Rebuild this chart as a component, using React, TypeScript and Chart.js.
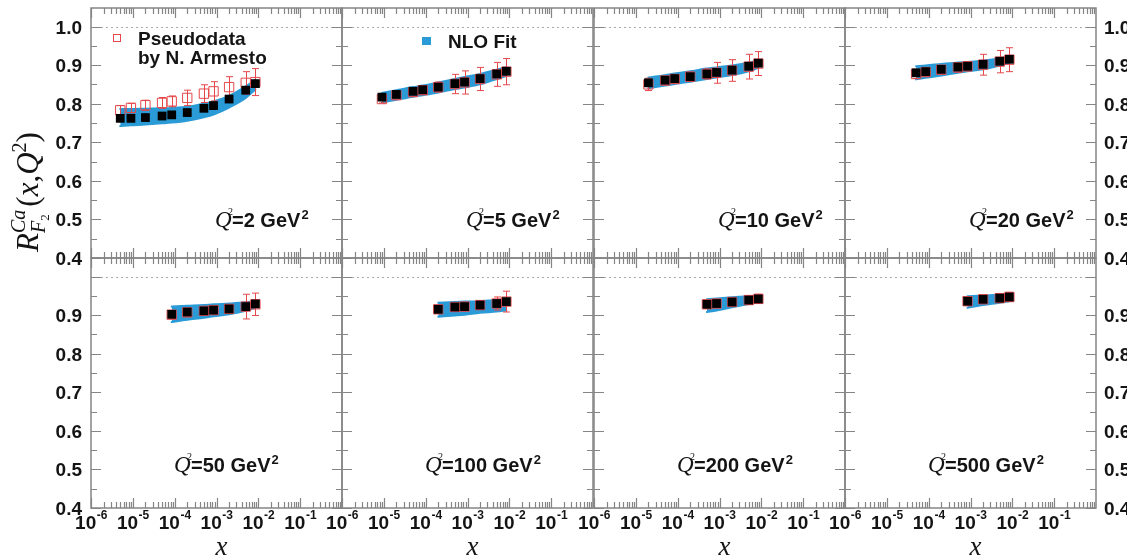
import React, { useEffect, useRef } from "react";
import { Chart, registerables } from "chart.js";
Chart.register(...registerables);

const CANVAS_W = 1127;
const CANVAS_H = 560;
const PANEL_LEFTS = [91, 342, 594, 845];
const PANEL_TOPS = [8, 258];
const PANEL_W = 251;
const PANEL_H = 250;
const Y_MIN = 0.4;
const Y_MAX = 1.048;
const X_MIN = 1e-6;
const X_MAX = 1;

const Q2_VALUES = ["2", "5", "10", "20", "50", "100", "200", "500"];
const Y_TICKS_TOP = [1.0, 0.9, 0.8, 0.7, 0.6, 0.5, 0.4];
const Y_TICKS_BOTTOM = [0.9, 0.8, 0.7, 0.6, 0.5, 0.4];
const X_TICK_EXPONENTS = [-6, -5, -4, -3, -2, -1];

// Q2 = 2 GeV2
const X_Q2_2 = [5e-6, 9e-6, 2e-5, 5e-5, 8.5e-5, 2e-4, 5e-4, 8.5e-4, 2e-3, 5e-3, 8.5e-3];
const FIT_Q2_2 = [0.762, 0.762, 0.764, 0.768, 0.771, 0.777, 0.788, 0.795, 0.812, 0.835, 0.852];
const DATA_Q2_2 = [0.783, 0.789, 0.796, 0.802, 0.806, 0.815, 0.826, 0.832, 0.843, 0.854, 0.856];
const ERR_Q2_2 = [0.012, 0.012, 0.013, 0.014, 0.014, 0.02, 0.023, 0.025, 0.027, 0.029, 0.035];
const BAND_LO_Q2_2 = [0.742, 0.744, 0.746, 0.749, 0.751, 0.756, 0.765, 0.772, 0.79, 0.815, 0.837];
const BAND_HI_Q2_2 = [0.786, 0.786, 0.787, 0.788, 0.789, 0.792, 0.8, 0.806, 0.82, 0.845, 0.862];

// Q2 = 5 GeV2
const X_Q2_5 = [9e-6, 2e-5, 5e-5, 8.5e-5, 2e-4, 5e-4, 8.5e-4, 2e-3, 5e-3, 8.5e-3];
const FIT_Q2_5 = [0.817, 0.824, 0.832, 0.836, 0.843, 0.852, 0.856, 0.865, 0.877, 0.884];
const DATA_Q2_5 = [0.812, 0.822, 0.83, 0.835, 0.843, 0.851, 0.855, 0.864, 0.876, 0.883];
const ERR_Q2_5 = [0.01, 0.01, 0.011, 0.011, 0.013, 0.025, 0.03, 0.03, 0.031, 0.034];
const BAND_LO_Q2_5 = [0.803, 0.81, 0.818, 0.822, 0.829, 0.838, 0.842, 0.85, 0.864, 0.872];
const BAND_HI_Q2_5 = [0.828, 0.835, 0.843, 0.847, 0.855, 0.864, 0.869, 0.877, 0.888, 0.895];

// Q2 = 10 GeV2
const X_Q2_10 = [2e-5, 5e-5, 8.5e-5, 2e-4, 5e-4, 8.5e-4, 2e-3, 5e-3, 8.5e-3];
const FIT_Q2_10 = [0.854, 0.861, 0.865, 0.87, 0.877, 0.881, 0.887, 0.897, 0.905];
const DATA_Q2_10 = [0.85, 0.86, 0.864, 0.87, 0.877, 0.88, 0.886, 0.896, 0.904];
const ERR_Q2_10 = [0.016, 0.011, 0.011, 0.012, 0.013, 0.027, 0.028, 0.032, 0.031];
const BAND_LO_Q2_10 = [0.84, 0.847, 0.851, 0.857, 0.864, 0.868, 0.874, 0.884, 0.893];
const BAND_HI_Q2_10 = [0.868, 0.874, 0.878, 0.884, 0.891, 0.894, 0.899, 0.907, 0.913];

// Q2 = 20 GeV2
const X_Q2_20 = [5e-5, 8.5e-5, 2e-4, 5e-4, 8.5e-4, 2e-3, 5e-3, 8.5e-3];
const FIT_Q2_20 = [0.88, 0.883, 0.889, 0.895, 0.897, 0.902, 0.91, 0.915];
const DATA_Q2_20 = [0.877, 0.882, 0.888, 0.894, 0.897, 0.901, 0.909, 0.914];
const ERR_Q2_20 = [0.012, 0.011, 0.011, 0.012, 0.012, 0.027, 0.029, 0.031];
const BAND_LO_Q2_20 = [0.863, 0.867, 0.873, 0.88, 0.884, 0.889, 0.899, 0.906];
const BAND_HI_Q2_20 = [0.897, 0.899, 0.903, 0.907, 0.908, 0.912, 0.918, 0.923];

// Q2 = 50 GeV2
const X_Q2_50 = [8.5e-5, 2e-4, 5e-4, 8.5e-4, 2e-3, 5e-3, 8.5e-3];
const FIT_Q2_50 = [0.902, 0.908, 0.911, 0.913, 0.916, 0.922, 0.929];
const DATA_Q2_50 = [0.901, 0.907, 0.911, 0.913, 0.916, 0.922, 0.928];
const ERR_Q2_50 = [0.01, 0.01, 0.01, 0.01, 0.011, 0.032, 0.029];
const BAND_LO_Q2_50 = [0.882, 0.888, 0.893, 0.897, 0.902, 0.911, 0.919];
const BAND_HI_Q2_50 = [0.922, 0.924, 0.926, 0.928, 0.93, 0.933, 0.936];

// Q2 = 100 GeV2
const X_Q2_100 = [2e-4, 5e-4, 8.5e-4, 2e-3, 5e-3, 8.5e-3];
const FIT_Q2_100 = [0.915, 0.921, 0.922, 0.926, 0.93, 0.935];
const DATA_Q2_100 = [0.915, 0.921, 0.922, 0.926, 0.93, 0.935];
const ERR_Q2_100 = [0.01, 0.01, 0.011, 0.011, 0.017, 0.027];
const BAND_LO_Q2_100 = [0.896, 0.899, 0.901, 0.906, 0.909, 0.912];
const BAND_HI_Q2_100 = [0.932, 0.934, 0.935, 0.936, 0.939, 0.941];

// Q2 = 200 GeV2
const X_Q2_200 = [5e-4, 8.5e-4, 2e-3, 5e-3, 8.5e-3];
const FIT_Q2_200 = [0.928, 0.93, 0.934, 0.939, 0.942];
const DATA_Q2_200 = [0.928, 0.93, 0.934, 0.939, 0.942];
const ERR_Q2_200 = [0.01, 0.01, 0.01, 0.011, 0.012];
const BAND_LO_Q2_200 = [0.908, 0.912, 0.92, 0.929, 0.934];
const BAND_HI_Q2_200 = [0.941, 0.943, 0.946, 0.949, 0.951];

// Q2 = 500 GeV2
const X_Q2_500 = [8.5e-4, 2e-3, 5e-3, 8.5e-3];
const FIT_Q2_500 = [0.936, 0.941, 0.944, 0.947];
const DATA_Q2_500 = [0.936, 0.941, 0.944, 0.947];
const ERR_Q2_500 = [0.01, 0.01, 0.011, 0.012];
const BAND_LO_Q2_500 = [0.919, 0.926, 0.932, 0.936];
const BAND_HI_Q2_500 = [0.949, 0.951, 0.953, 0.955];

const PANELS = [
  { x: X_Q2_2, fit: FIT_Q2_2, data: DATA_Q2_2, err: ERR_Q2_2, lo: BAND_LO_Q2_2, hi: BAND_HI_Q2_2 },
  { x: X_Q2_5, fit: FIT_Q2_5, data: DATA_Q2_5, err: ERR_Q2_5, lo: BAND_LO_Q2_5, hi: BAND_HI_Q2_5 },
  { x: X_Q2_10, fit: FIT_Q2_10, data: DATA_Q2_10, err: ERR_Q2_10, lo: BAND_LO_Q2_10, hi: BAND_HI_Q2_10 },
  { x: X_Q2_20, fit: FIT_Q2_20, data: DATA_Q2_20, err: ERR_Q2_20, lo: BAND_LO_Q2_20, hi: BAND_HI_Q2_20 },
  { x: X_Q2_50, fit: FIT_Q2_50, data: DATA_Q2_50, err: ERR_Q2_50, lo: BAND_LO_Q2_50, hi: BAND_HI_Q2_50 },
  { x: X_Q2_100, fit: FIT_Q2_100, data: DATA_Q2_100, err: ERR_Q2_100, lo: BAND_LO_Q2_100, hi: BAND_HI_Q2_100 },
  { x: X_Q2_200, fit: FIT_Q2_200, data: DATA_Q2_200, err: ERR_Q2_200, lo: BAND_LO_Q2_200, hi: BAND_HI_Q2_200 },
  { x: X_Q2_500, fit: FIT_Q2_500, data: DATA_Q2_500, err: ERR_Q2_500, lo: BAND_LO_Q2_500, hi: BAND_HI_Q2_500 },
];

const SANS = '"Liberation Sans", Arial, sans-serif';
const SERIF = '"Liberation Serif", "Times New Roman", serif';
const BAND = "#2a9bd6";
const RED = "#e5484b";
const FRAME = "#858585";
const TEXT = "#141414";

function drawYTitle(ctx: CanvasRenderingContext2D, cx: number, cy: number) {
  const big = 31;
  const small = 20;
  ctx.save();
  ctx.translate(cx, cy);
  ctx.rotate(-Math.PI / 2);
  ctx.fillStyle = TEXT;
  ctx.textBaseline = "alphabetic";
  ctx.textAlign = "left";
  const fI = `italic ${big}px ${SERIF}`;
  const fR = `${big}px ${SERIF}`;
  const fIs = `italic ${small}px ${SERIF}`;
  const fRs = `${small}px ${SERIF}`;
  const fRss = `13px ${SERIF}`;
  const w = (t: string, f: string) => {
    ctx.font = f;
    return ctx.measureText(t).width;
  };
  const supW = Math.max(w("Ca", fIs), w("F", fIs) + w("2", fRss)) + 3;
  const total =
    w("R", fI) + supW + w("(", fR) + w("x", fI) + w(",", fR) + w("Q", fI) + w("2", fRs) + w(")", fR);
  let x = -total / 2;
  const put = (t: string, f: string, dy: number, dx = 0) => {
    ctx.font = f;
    ctx.fillText(t, x + dx, dy);
    return ctx.measureText(t).width;
  };
  const base = 10;
  x += put("R", fI, base);
  put("Ca", fIs, base - 13);
  const fw = put("F", fIs, base + 7);
  put("2", fRss, base + 11, fw);
  x += supW;
  x += put("(", fR, base);
  x += put("x", fI, base);
  x += put(",", fR, base);
  x += put("Q", fI, base);
  x += put("2", fRs, base - 12);
  put(")", fR, base);
  ctx.restore();
}

function drawQ2(ctx: CanvasRenderingContext2D, x: number, y: number, val: string) {
  ctx.save();
  ctx.fillStyle = TEXT;
  ctx.textAlign = "left";
  ctx.textBaseline = "alphabetic";
  ctx.font = `italic 23px ${SERIF}`;
  ctx.fillText("Q", x, y);
  ctx.font = `10px ${SERIF}`;
  ctx.fillText("2", x + 13, y - 12);
  ctx.font = `bold 20px ${SANS}`;
  const txt = "=" + val + " GeV";
  ctx.fillText(txt, x + 17, y);
  const tw = ctx.measureText(txt).width;
  ctx.font = `bold 13px ${SANS}`;
  ctx.fillText("2", x + 18 + tw, y - 8);
  ctx.restore();
}

function makeDeco(p: number) {
  const col = p % 4;
  const row = Math.floor(p / 4);
  return {
    id: "deco" + p,
    beforeDatasetsDraw(chart: any) {
      const { ctx, chartArea: a, scales } = chart;
      const py = Math.round(scales.y.getPixelForValue(1.0)) + 0.5;
      ctx.save();
      ctx.strokeStyle = "#a8a8a8";
      ctx.lineWidth = 1;
      ctx.setLineDash([2, 3]);
      ctx.beginPath();
      ctx.moveTo(a.left, py);
      ctx.lineTo(a.right, py);
      ctx.stroke();
      ctx.restore();
    },
    beforeDatasetDraw(chart: any, args: any) {
      if (args.index !== 2) return;
      const { ctx, scales } = chart;
      const pd = PANELS[p];
      ctx.save();
      ctx.strokeStyle = RED;
      ctx.lineWidth = 1;
      pd.x.forEach((xv, i) => {
        const px = Math.round(scales.x.getPixelForValue(xv)) + 0.5;
        const y1 = scales.y.getPixelForValue(pd.data[i] + pd.err[i]);
        const y2 = scales.y.getPixelForValue(pd.data[i] - pd.err[i]);
        ctx.beginPath();
        ctx.moveTo(px, y1);
        ctx.lineTo(px, y2);
        ctx.moveTo(px - 3.5, y1);
        ctx.lineTo(px + 3.5, y1);
        ctx.moveTo(px - 3.5, y2);
        ctx.lineTo(px + 3.5, y2);
        ctx.stroke();
      });
      ctx.restore();
    },
    afterDraw(chart: any) {
      const { ctx, chartArea: a, scales } = chart;
      const xs = scales.x;
      const ys = scales.y;
      ctx.save();
      // ticks
      ctx.strokeStyle = FRAME;
      ctx.lineWidth = 1.2;
      ctx.beginPath();
      for (let k = 8; k <= 20; k++) {
        const v = k * 0.05;
        const py = Math.round(ys.getPixelForValue(v)) + 0.5;
        const len = k % 2 === 0 ? 10 : 6;
        ctx.moveTo(a.left, py);
        ctx.lineTo(a.left + len, py);
        ctx.moveTo(a.right, py);
        ctx.lineTo(a.right - len, py);
      }
      for (let e = -6; e < 0; e++) {
        for (let m = 1; m <= 9; m++) {
          const v = m * Math.pow(10, e);
          const px = Math.round(xs.getPixelForValue(v)) + 0.5;
          const len = m === 1 ? 10 : 6;
          ctx.moveTo(px, a.top);
          ctx.lineTo(px, a.top + len);
          ctx.moveTo(px, a.bottom);
          ctx.lineTo(px, a.bottom - len);
        }
      }
      ctx.stroke();
      // frame
      ctx.lineWidth = 1.5;
      ctx.strokeRect(a.left, a.top, a.right - a.left, a.bottom - a.top);

      // y tick labels
      ctx.fillStyle = TEXT;
      ctx.font = `bold 19px ${SANS}`;
      ctx.textBaseline = "alphabetic";
      const yl = row === 0 ? Y_TICKS_TOP : Y_TICKS_BOTTOM;
      yl.forEach((v) => {
        const py = ys.getPixelForValue(v) + 7;
        if (col === 0) {
          ctx.textAlign = "right";
          ctx.fillText(v.toFixed(1), a.left - 9, py);
        }
        if (col === 3) {
          ctx.textAlign = "left";
          ctx.fillText(v.toFixed(1), a.right + 8, py);
        }
      });

      // x tick labels
      if (row === 1) {
        X_TICK_EXPONENTS.forEach((e) => {
          const px = xs.getPixelForValue(Math.pow(10, e));
          ctx.font = `bold 19px ${SANS}`;
          const w10 = ctx.measureText("10").width;
          ctx.font = `bold 12px ${SANS}`;
          const ws = ctx.measureText(String(e)).width;
          const x0 = px - (w10 + ws) / 2;
          ctx.textAlign = "left";
          ctx.font = `bold 19px ${SANS}`;
          ctx.fillText("10", x0, 529);
          ctx.font = `bold 12px ${SANS}`;
          ctx.fillText(String(e), x0 + w10 + 0.5, 519);
        });
        ctx.font = `italic 27px ${SERIF}`;
        ctx.textAlign = "center";
        ctx.fillText("x", (a.left + a.right) / 2 + 5, 555);
      }

      // Q2 annotation
      drawQ2(ctx, a.left + (row === 0 ? 124 : 83), row === 0 ? 227 : 472, Q2_VALUES[p]);

      // legends
      if (p === 0) {
        ctx.strokeStyle = RED;
        ctx.lineWidth = 1;
        ctx.strokeRect(113.5, 34.5, 7, 7);
        ctx.fillStyle = TEXT;
        ctx.font = `bold 19px ${SANS}`;
        ctx.textAlign = "left";
        ctx.fillText("Pseudodata", 138, 45);
        ctx.fillText("by N. Armesto", 138, 64);
        drawYTitle(ctx, 28, 192);
      }
      if (p === 1) {
        ctx.fillStyle = BAND;
        ctx.fillRect(422, 37, 9, 8);
        ctx.fillStyle = TEXT;
        ctx.font = `bold 19px ${SANS}`;
        ctx.textAlign = "left";
        ctx.fillText("NLO Fit", 448, 48);
      }
      ctx.restore();
    },
  };
}

function Panel({ index }: { index: number }) {
  const ref = useRef<HTMLCanvasElement>(null);
  useEffect(() => {
    const col = index % 4;
    const row = Math.floor(index / 4);
    const left = PANEL_LEFTS[col];
    const top = PANEL_TOPS[row];
    const pd = PANELS[index];
    const pts = (vals: number[]) => pd.x.map((x, i) => ({ x, y: vals[i] }));
    const chart = new Chart(ref.current as HTMLCanvasElement, {
      type: "line",
      data: {
        datasets: [
          {
            data: pts(pd.hi),
            borderColor: BAND,
            borderWidth: 2,
            pointRadius: 0,
            fill: false,
            cubicInterpolationMode: "monotone",
            borderCapStyle: "round",
            order: 4,
          } as any,
          {
            data: pts(pd.lo),
            borderColor: BAND,
            borderWidth: 2,
            pointRadius: 0,
            fill: "-1",
            backgroundColor: BAND,
            cubicInterpolationMode: "monotone",
            borderCapStyle: "round",
            order: 3,
          } as any,
          {
            type: "scatter",
            data: pts(pd.data),
            pointStyle: "rect",
            pointRadius: 6.6,
            borderColor: RED,
            borderWidth: 1,
            backgroundColor: "rgba(0,0,0,0)",
            order: 2,
          } as any,
          {
            type: "scatter",
            data: pts(pd.fit),
            pointStyle: "rect",
            pointRadius: 6.2,
            borderColor: "#000",
            borderWidth: 0,
            backgroundColor: "#000",
            order: 1,
          } as any,
        ],
      },
      options: {
        responsive: false,
        animation: false,
        devicePixelRatio: 1,
        events: [],
        layout: {
          autoPadding: false,
          padding: {
            left,
            top,
            right: CANVAS_W - left - PANEL_W,
            bottom: CANVAS_H - top - PANEL_H,
          },
        },
        scales: {
          x: { type: "logarithmic", min: X_MIN, max: X_MAX, display: false },
          y: { type: "linear", min: Y_MIN, max: Y_MAX, display: false },
        },
        plugins: { legend: { display: false }, tooltip: { enabled: false } },
      } as any,
      plugins: [makeDeco(index)],
    });
    return () => chart.destroy();
  }, [index]);
  return (
    <canvas
      ref={ref}
      width={CANVAS_W}
      height={CANVAS_H}
      style={{ position: "absolute", left: 0, top: 0, width: CANVAS_W, height: CANVAS_H }}
    />
  );
}

export default function App() {
  return (
    <div
      style={{
        position: "absolute",
        left: 0,
        top: 0,
        width: CANVAS_W,
        height: CANVAS_H,
        background: "#fff",
        overflow: "hidden",
      }}
    >
      {PANELS.map((_, i) => (
        <Panel key={i} index={i} />
      ))}
    </div>
  );
}
